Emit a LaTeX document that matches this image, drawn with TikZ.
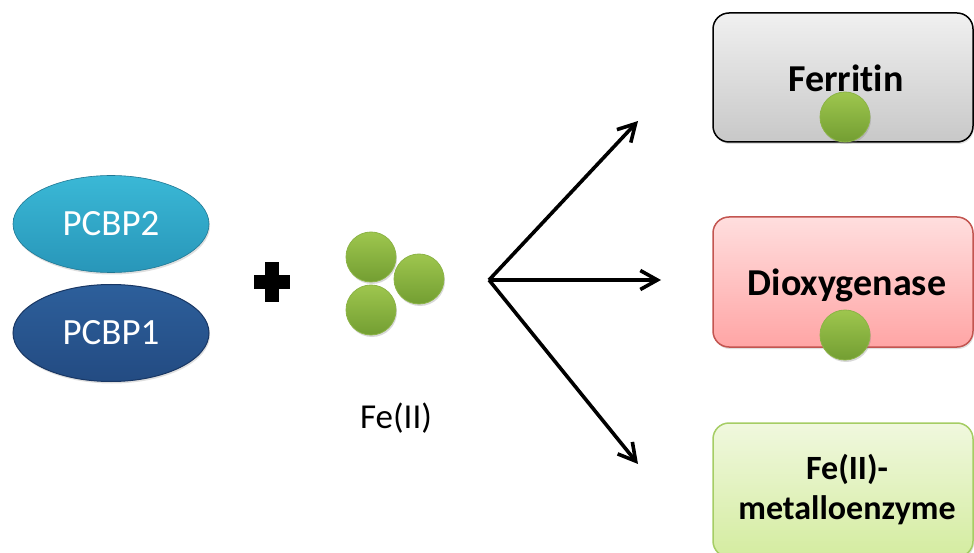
\documentclass[tikz,border=0pt]{standalone}
\usepackage{fontspec}
\setmainfont{Carlito}[Ligatures={NoCommon}]
\usetikzlibrary{shapes.geometric,arrows.meta,shadows}
\definecolor{cyanT}{RGB}{58,184,214}
\definecolor{cyanB}{RGB}{40,150,185}
\definecolor{blueT}{RGB}{45,95,155}
\definecolor{blueB}{RGB}{35,75,130}
\definecolor{blueD}{RGB}{25,55,100}
\definecolor{grnT}{RGB}{158,198,78}
\definecolor{grnB}{RGB}{115,158,50}
\definecolor{grnD}{RGB}{140,180,70}
\definecolor{grayT}{RGB}{240,240,240}
\definecolor{grayB}{RGB}{200,200,200}
\definecolor{pinkT}{RGB}{255,222,222}
\definecolor{pinkB}{RGB}{255,165,165}
\definecolor{pinkD}{RGB}{195,85,80}
\definecolor{limeT}{RGB}{240,248,222}
\definecolor{limeB}{RGB}{212,236,160}
\definecolor{limeD}{RGB}{165,205,100}
\begin{document}
\begin{tikzpicture}[x=1pt,y=-1pt,
  prot/.style={ellipse,minimum width=196pt,minimum height=97pt,inner sep=0pt,
    text=white,font=\fontsize{37}{42}\selectfont,
    drop shadow={shadow xshift=1pt,shadow yshift=-2pt,opacity=0.25}},
  iron/.style={circle,minimum size=50pt,inner sep=0pt,draw=grnD,line width=0.8pt,
    top color=grnT,bottom color=grnB,
    drop shadow={shadow xshift=1pt,shadow yshift=-2pt,opacity=0.3}},
  target/.style={rectangle,rounded corners=16pt,minimum width=260pt,inner sep=0pt,
    align=center,line width=1.5pt,
    drop shadow={shadow xshift=1pt,shadow yshift=-2pt,opacity=0.25}},
  tlabel/.style={font=\bfseries\fontsize{38}{40}\selectfont,align=center,inner sep=0pt},
  branch/.style={line width=3.6pt,-{Straight Barb[length=17pt,width=19pt,line width=3.6pt]}}
]
\useasboundingbox (0,0) rectangle (974,553);
\fill[white] (0,0) rectangle (974,553);

% proteins
\node[prot,draw=cyanB!80!black,line width=0.6pt,top color=cyanT,bottom color=cyanB] (p2) at (111,224) {PCBP2};
\node[prot,draw=blueD,line width=1pt,top color=blueT,bottom color=blueB] (p1) at (111,333) {PCBP1};

% plus
\node[inner sep=0pt] (plus) at (272,282) {};
\fill[black] (265,262) rectangle (279,302);
\fill[black] (254,275) rectangle (290,289);

% iron
\node[iron] (fe1) at (371,257) {};
\node[iron] (fe2) at (419,279) {};
\node[iron] (fe3) at (371,310) {};
\node[font=\fontsize{35}{38}\selectfont] (fel) at (396,418) {Fe(II)};

% arrows
\coordinate (fork) at (489,280);
\coordinate (t1) at (638,121);
\coordinate (t2) at (661,280);
\coordinate (t3) at (638,464);
\draw[branch] (fork) -- (t1);
\draw[branch] (fork) -- (t2);
\draw[branch] (fork) -- (t3);

% targets
\node[target,minimum height=129pt,draw=black,top color=grayT,bottom color=grayB] (fer) at (843,77.5) {};
\node[tlabel] (ferl) at (846,78) {Ferritin};
\node[iron] (fefer) at (845,117) {};
\node[target,minimum height=130pt,draw=pinkD,top color=pinkT,bottom color=pinkB] (diox) at (843,282) {};
\node[tlabel] (dioxl) at (847,285) {Dioxygenase};
\node[iron] (fediox) at (845,335) {};
\node[target,minimum height=134pt,draw=limeD,top color=limeT,bottom color=limeB] (met) at (843,490) {};
\node[tlabel,font=\bfseries\fontsize{34}{40}\selectfont] (metl) at (847,490) {Fe(II)-\\metalloenzyme};
\end{tikzpicture}
\end{document}
